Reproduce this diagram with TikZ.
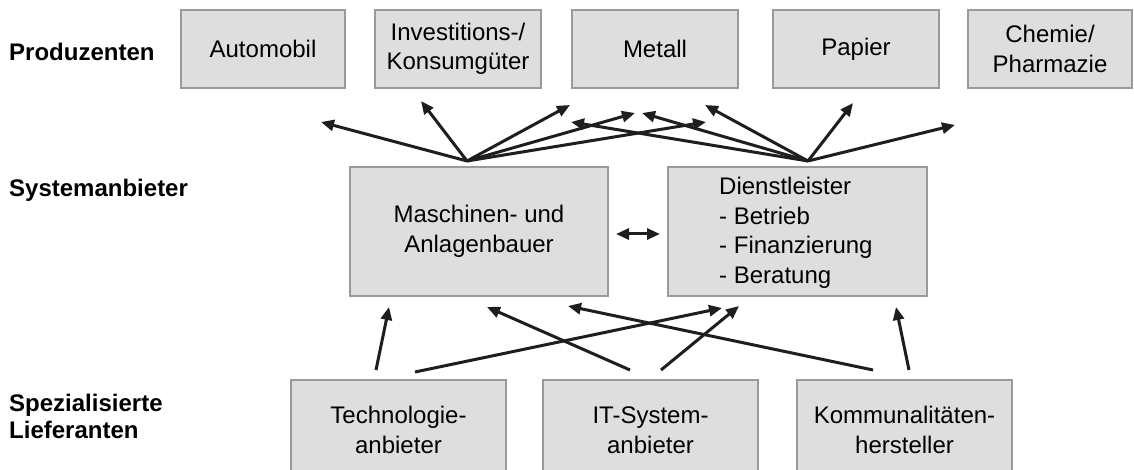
\documentclass[tikz,border=0pt]{standalone}
\usepackage{fontspec}
\setmainfont{Liberation Sans}
\usetikzlibrary{arrows.meta}
\definecolor{boxfill}{HTML}{DEDEDE}
\definecolor{boxline}{HTML}{9A9A9A}
\definecolor{arr}{HTML}{1E1E1E}
\begin{document}
\begin{tikzpicture}[x=1pt,y=-1pt,
  box/.style={draw=boxline, fill=boxfill, line width=1.6pt, inner sep=0pt, align=center,
    font=\fontsize{24}{29.5}\selectfont},
  topbox/.style={box, minimum width=166pt, minimum height=78pt},
  botbox/.style={box, minimum width=215pt, minimum height=100pt},
  lbl/.style={anchor=west, inner sep=0pt, align=left, font=\fontsize{24}{27}\selectfont\bfseries},
  conn/.style={draw=arr, line width=3pt, -{Triangle[length=13pt,width=11pt]}},
  conn2/.style={draw=arr, line width=3pt, {Triangle[length=13pt,width=11pt]}-{Triangle[length=13pt,width=11pt]}}
]
\useasboundingbox (0,0) rectangle (1134,470);
% left labels
\node[lbl] (lp) at (9,52) {Produzenten};
\node[lbl] (ls) at (9,190) {Systemanbieter};
\node[lbl] (ll) at (9,416.5) {Spezialisierte\\Lieferanten};
% top boxes
\node[topbox, minimum width=164pt] (auto) at (263,49) {Automobil};
\node[topbox] (inv) at (458,49) {Investitions-/\\Konsumgüter};
\node[topbox] (met) at (655,49) {Metall};
\node[topbox] (pap) at (856,49) {Papier};
\node[topbox, minimum width=164pt] (che) at (1050,49) {Chemie/\\Pharmazie};
% middle boxes
\node[box, minimum width=258pt, minimum height=129pt] (mas) at (479,231.5) {Maschinen- und\\Anlagenbauer};
\node[box, minimum width=259pt, minimum height=129pt] (die) at (797.5,231.5) {};
\node[anchor=west, inner sep=0pt, align=left, font=\fontsize{24}{29.5}\selectfont] (diet) at (719,233)
  {Dienstleister\\- Betrieb\\- Finanzierung\\- Beratung};
% bottom boxes
\node[botbox] (tec) at (398.5,430) {Technologie-\\anbieter};
\node[botbox] (its) at (650.5,430) {IT-System-\\anbieter};
\node[botbox] (kom) at (904.5,430) {Kommunalitäten-\\hersteller};
% double arrow
\coordinate (dl) at (616,234);
\coordinate (dr) at (660,234);
\draw[conn2] (dl) -- (dr);
% top arrows
\coordinate (A) at (467,161);
\coordinate (B) at (808,161);
\coordinate (a1) at (321,122);
\coordinate (a2) at (421,101);
\coordinate (a3) at (570,105);
\coordinate (a4) at (635,113);
\coordinate (a5) at (706,122);
\coordinate (b1) at (571,122);
\coordinate (b2) at (642,113);
\coordinate (b3) at (705,105);
\coordinate (b4) at (853,103);
\coordinate (b5) at (955,125);
\foreach \t in {a1,a2,a3,a4,a5} \draw[conn] (A) -- (\t);
\foreach \t in {b1,b2,b3,b4,b5} \draw[conn] (B) -- (\t);
% bottom arrows
\coordinate (t1s) at (376,370); \coordinate (t1e) at (389,307);
\coordinate (t2s) at (415,372); \coordinate (t2e) at (722,308);
\coordinate (i1s) at (630,370); \coordinate (i1e) at (487,307);
\coordinate (i2s) at (661,370); \coordinate (i2e) at (739,306);
\coordinate (k1s) at (873,370); \coordinate (k1e) at (568,306);
\coordinate (k2s) at (909,370); \coordinate (k2e) at (896,307);
\draw[conn] (t1s) -- (t1e);
\draw[conn] (t2s) -- (t2e);
\draw[conn] (i1s) -- (i1e);
\draw[conn] (i2s) -- (i2e);
\draw[conn] (k1s) -- (k1e);
\draw[conn] (k2s) -- (k2e);
\end{tikzpicture}
\end{document}
